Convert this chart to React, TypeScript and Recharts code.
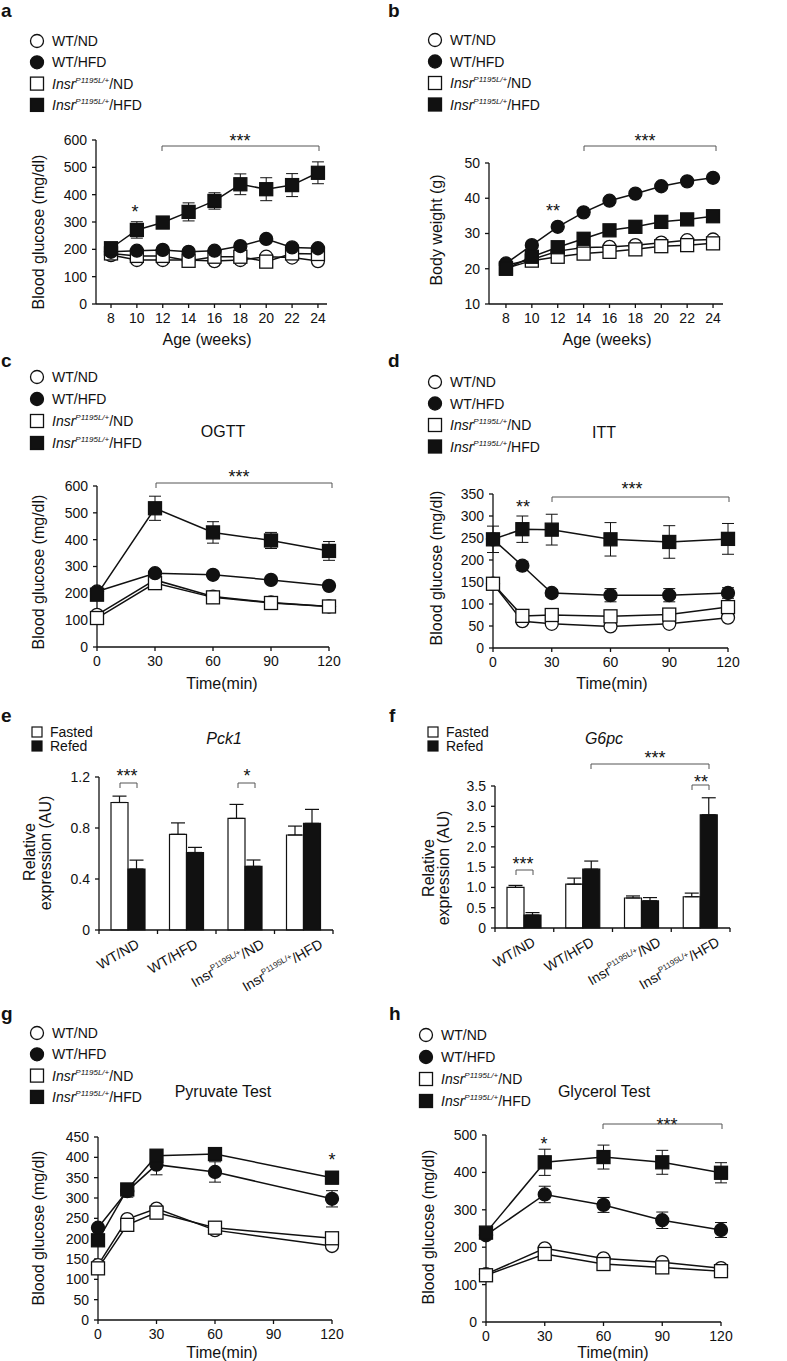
import React from 'react';
import { LineChart, Line, BarChart, Bar, XAxis, YAxis, ErrorBar } from 'recharts';

const FONT = '"Liberation Sans", Arial, Helvetica, sans-serif';
const INK = '#111';

// a: blood glucose vs age
const ageWeeks = [8, 10, 12, 14, 16, 18, 20, 22, 24];
const ageTicks = [8, 10, 12, 14, 16, 18, 20, 22, 24];
const agGluWtNd = [179, 161, 161, 161, 157, 161, 173, 170, 157];
const agGluWtHfd = [191, 195, 198, 191, 195, 212, 238, 207, 204];
const agGluInsNd = [185, 176, 176, 158, 173, 173, 155, 185, 183];
const agGluInsHfd = [204, 271, 298, 337, 377, 438, 420, 435, 480];
const agGluWtHfdErr = [8, 8, 8, 8, 8, 10, 10, 10, 8];
const agGluInsHfdErr = [10, 30, 15, 33, 30, 38, 42, 42, 40];

// b: body weight vs age
const bwWtNd = [21, 22.6, 25, 26, 26.2, 26.7, 27.4, 28.1, 28.3];
const bwWtHfd = [21.5, 26.7, 31.9, 36, 39.3, 41.3, 43.4, 44.8, 45.8];
const bwInsNd = [20.1, 22.3, 23.4, 24.3, 24.8, 25.5, 26.4, 26.7, 27.2];
const bwInsHfd = [20, 23.4, 26.1, 28.5, 30.9, 31.9, 33.3, 34, 34.9];

// c: OGTT
const ogttTime = [0, 30, 60, 90, 120];
const ogttWtNd = [120, 250, 188, 166, 151];
const ogttWtHfd = [207, 275, 269, 250, 228];
const ogttInsNd = [108, 238, 185, 164, 151];
const ogttInsHfd = [195, 517, 427, 397, 358];
const ogttWtHfdErr = [8, 10, 10, 10, 10];
const ogttInsHfdErr = [10, 45, 40, 30, 35];

// d: ITT
const ittTime = [0, 15, 30, 60, 90, 120];
const ittWtNd = [146, 61, 55, 49, 55, 69];
const ittWtHfd = [247, 187, 125, 120, 120, 125];
const ittInsNd = [146, 73, 75, 72, 76, 93];
const ittInsHfd = [247, 270, 269, 247, 241, 248];
const ittWtHfdErr = [10, 10, 8, 15, 15, 12];
const ittInsHfdErr = [30, 30, 35, 38, 37, 35];

// e, f: expression
const groups = ['WT/ND', 'WT/HFD', 'Insr/ND', 'Insr/HFD'];
const pck1Fasted = [1.0, 0.75, 0.875, 0.745];
const pck1FastedErr = [0.05, 0.09, 0.11, 0.07];
const pck1Refed = [0.478, 0.608, 0.499, 0.836];
const pck1RefedErr = [0.07, 0.04, 0.05, 0.11];
const g6pcFasted = [1.0, 1.08, 0.74, 0.77];
const g6pcFastedErr = [0.05, 0.15, 0.05, 0.09];
const g6pcRefed = [0.32, 1.45, 0.67, 2.79];
const g6pcRefedErr = [0.06, 0.2, 0.08, 0.42];

// g: pyruvate test
const pyrTime = [0, 15, 30, 60, 120];
const pyrWtNd = [135, 248, 274, 221, 182];
const pyrWtHfd = [227, 317, 382, 364, 298];
const pyrInsNd = [127, 234, 264, 227, 201];
const pyrInsHfd = [196, 321, 404, 408, 350];
const pyrWtHfdErr = [8, 15, 25, 25, 20];
const pyrInsHfdErr = [8, 10, 12, 15, 15];

// h: glycerol test
const glyTime = [0, 30, 60, 90, 120];
const glyWtNd = [128, 197, 170, 160, 144];
const glyWtHfd = [232, 341, 313, 272, 246];
const glyInsNd = [125, 182, 155, 146, 136];
const glyInsHfd = [239, 427, 441, 427, 399];
const glyWtHfdErr = [8, 22, 20, 22, 20];
const glyInsHfdErr = [10, 35, 32, 32, 27];

const minTicks = [0, 30, 60, 90, 120];

type Box = { x0: number; x1: number; y0: number; y1: number };

const boxA: Box = { x0: 96, x1: 327, y0: 140, y1: 304 };
const boxB: Box = { x0: 489, x1: 723, y0: 163, y1: 304 };
const boxC: Box = { x0: 97, x1: 329, y0: 486, y1: 647 };
const boxD: Box = { x0: 493, x1: 728, y0: 494, y1: 648 };
const boxE: Box = { x0: 99, x1: 333, y0: 777, y1: 930 };
const boxF: Box = { x0: 495, x1: 730, y0: 786, y1: 928 };
const boxG: Box = { x0: 98, x1: 332, y0: 1137, y1: 1320 };
const boxH: Box = { x0: 486, x1: 721, y0: 1135, y1: 1322 };

// chart placed so that its plot area lands exactly on the box
const frame = (b: Box, yw: number, xh: number) => ({
  left: b.x0 - yw,
  top: b.y0 - 20,
  width: b.x1 - b.x0 + yw + 20,
  height: b.y1 - b.y0 + 20 + xh,
});
const MARGIN = { top: 20, right: 20, left: 0, bottom: 0 };

const Marker = (props: any) => {
  const { cx, cy, kind, filled } = props;
  if (cx == null || cy == null) return null;
  const fill = filled ? INK : '#fff';
  if (kind === 'square') {
    return <rect x={cx - 6.5} y={cy - 6.5} width={13} height={13} fill={fill} stroke={INK} strokeWidth={1.3} />;
  }
  return <circle cx={cx} cy={cy} r={6.5} fill={fill} stroke={INK} strokeWidth={1.3} />;
};

type Series = { key: string; values: number[]; err?: number[]; kind: string; filled: boolean };

const fourSeries = (wtNd: number[], insNd: number[], wtHfd: number[], insHfd: number[], wtHfdErr?: number[], insHfdErr?: number[]): Series[] => [
  { key: 'wtNd', values: wtNd, kind: 'circle', filled: false },
  { key: 'insNd', values: insNd, kind: 'square', filled: false },
  { key: 'wtHfd', values: wtHfd, err: wtHfdErr, kind: 'circle', filled: true },
  { key: 'insHfd', values: insHfd, err: insHfdErr, kind: 'square', filled: true },
];

const axisLine = { stroke: INK, strokeWidth: 1.3 };
const tickStyle = { fill: INK, fontSize: 14 };

function LinePanel({ box, xs, series, xDomain, xTicks, yDomain, yTicks }: any) {
  const rows = xs.map((x: number, i: number) => {
    const r: any = { x };
    series.forEach((s: Series) => {
      r[s.key] = s.values[i];
      if (s.err) r[s.key + 'Err'] = s.err[i];
    });
    return r;
  });
  const f = frame(box, 50, 40);
  return (
    <div style={{ position: 'absolute', left: f.left, top: f.top }}>
      <LineChart width={f.width} height={f.height} data={rows} margin={MARGIN}>
        <XAxis dataKey="x" type="number" domain={xDomain} ticks={xTicks} interval={0} height={40}
          axisLine={axisLine} tickLine={axisLine} tickSize={4} tickMargin={5} tick={tickStyle} />
        <YAxis type="number" domain={yDomain} ticks={yTicks} interval={0} width={50}
          axisLine={axisLine} tickLine={axisLine} tickSize={4} tickMargin={5} tick={tickStyle} />
        {series.map((s: Series) => (
          <Line key={s.key} dataKey={s.key} type="linear" stroke={INK} strokeWidth={1.5}
            isAnimationActive={false} activeDot={false}
            dot={<Marker kind={s.kind} filled={s.filled} />}>
            {s.err && (
              <ErrorBar dataKey={s.key + 'Err'} width={6} stroke={INK} strokeWidth={1} direction="y" isAnimationActive={false} />
            )}
          </Line>
        ))}
      </LineChart>
    </div>
  );
}

const GroupTick = (props: any) => {
  const { x, y, payload } = props;
  const v: string = payload.value;
  const isIns = v.startsWith('Insr');
  const dx = isIns ? 20 : 12;
  return (
    <g transform={`translate(${x + dx},${y + 15}) rotate(-30)`}>
      <text textAnchor="end" fill={INK} fontSize={14}>
        {isIns ? (
          <>
            <tspan>Insr</tspan>
            <tspan fontSize={8} dy={-6}>P1195L/+</tspan>
            <tspan dy={6}>{v.slice(4)}</tspan>
          </>
        ) : v}
      </text>
    </g>
  );
};

function BarPanel({ box, fasted, fastedErr, refed, refedErr, yDomain, yTicks, fmt }: any) {
  const rows = groups.map((g, i) => ({
    group: g,
    fasted: fasted[i],
    fastedErr: [0, fastedErr[i]],
    refed: refed[i],
    refedErr: [0, refedErr[i]],
  }));
  const f = frame(box, 90, 90);
  return (
    <div style={{ position: 'absolute', left: f.left, top: f.top }}>
      <BarChart width={f.width} height={f.height} data={rows} margin={MARGIN} barGap={0}>
        <XAxis dataKey="group" interval={0} height={90} axisLine={axisLine} tickLine={false}
          tickSize={0} tick={<GroupTick />} />
        <YAxis type="number" domain={yDomain} ticks={yTicks} interval={0} width={90}
          axisLine={axisLine} tickLine={axisLine} tickSize={4} tickMargin={5} tick={tickStyle}
          tickFormatter={fmt} />
        <Bar dataKey="fasted" fill="#fff" stroke={INK} strokeWidth={1.2} barSize={17} isAnimationActive={false}>
          <ErrorBar dataKey="fastedErr" width={7} stroke={INK} strokeWidth={1.2} direction="y" isAnimationActive={false} />
        </Bar>
        <Bar dataKey="refed" fill={INK} stroke={INK} strokeWidth={1.2} barSize={17} isAnimationActive={false}>
          <ErrorBar dataKey="refedErr" width={7} stroke={INK} strokeWidth={1.2} direction="y" isAnimationActive={false} />
        </Bar>
      </BarChart>
    </div>
  );
}

const legendItems = [
  { kind: 'circle', filled: false, label: 'WT/ND' },
  { kind: 'circle', filled: true, label: 'WT/HFD' },
  { kind: 'square', filled: false, label: 'Insr/ND' },
  { kind: 'square', filled: true, label: 'Insr/HFD' },
];

function GroupLegend({ x, y, step }: { x: number; y: number; step: number }) {
  return (
    <g>
      {legendItems.map((it, i) => {
        const cy = y + i * step;
        const isIns = it.label.startsWith('Insr');
        return (
          <g key={it.label}>
            <Marker cx={x} cy={cy} kind={it.kind} filled={it.filled} />
            <text x={x + 15} y={cy + 5} fontSize={14} fill={INK}>
              {isIns ? (
                <>
                  <tspan fontStyle="italic">Insr</tspan>
                  <tspan fontStyle="italic" fontSize={8} dy={-6}>P1195L/+</tspan>
                  <tspan dy={6}>{it.label.slice(4)}</tspan>
                </>
              ) : it.label}
            </text>
          </g>
        );
      })}
    </g>
  );
}

function DietLegend({ x, y }: { x: number; y: number }) {
  return (
    <g>
      <rect x={x - 5} y={y - 5} width={10} height={10} fill="#fff" stroke={INK} strokeWidth={1.2} />
      <text x={x + 13} y={y + 5} fontSize={14} fill={INK}>Fasted</text>
      <rect x={x - 5} y={y + 9} width={10} height={10} fill={INK} stroke={INK} strokeWidth={1.2} />
      <text x={x + 13} y={y + 19} fontSize={14} fill={INK}>Refed</text>
    </g>
  );
}

const Stars = ({ x, y, s }: { x: number; y: number; s: string }) => (
  <text x={x} y={y + 11} textAnchor="middle" fontSize={18} fill={INK}>{s}</text>
);

const Bracket = ({ x1, x2, y }: { x1: number; x2: number; y: number }) => (
  <path d={`M${x1},${y + 5}V${y}H${x2}V${y + 5}`} fill="none" stroke="#555" strokeWidth={1} />
);

const YTitle = ({ x, y, text }: { x: number; y: number; text: string }) => (
  <text transform={`translate(${x},${y}) rotate(-90)`} y={5.5} textAnchor="middle" fontSize={16} fill={INK}>{text}</text>
);

const Title = ({ x, y, text, italic }: { x: number; y: number; text: string; italic?: boolean }) => (
  <text x={x} y={y + 6} textAnchor="middle" fontSize={16} fill={INK} fontStyle={italic ? 'italic' : 'normal'}>{text}</text>
);

const Letter = ({ x, y, t }: { x: number; y: number; t: string }) => (
  <text x={x} y={y} fontSize={19} fontWeight="bold" fill={INK}>{t}</text>
);

const bandTicks = (b: Box) =>
  [0, 1, 2, 3, 4].map((i) => {
    const x = b.x0 + ((b.x1 - b.x0) * i) / 4;
    return <line key={`${b.x0}-${i}`} x1={x} x2={x} y1={b.y1} y2={b.y1 + 4} stroke={INK} strokeWidth={1.3} />;
  });

const fmt1 = (v: number) => (v === 0 ? '0' : v.toFixed(1));

export default function App() {
  return (
    <div style={{ position: 'absolute', left: 0, top: 0, width: 787, height: 1361, background: '#fff', fontFamily: FONT, overflow: 'hidden' }}>
      <LinePanel box={boxA} xs={ageWeeks}
        series={fourSeries(agGluWtNd, agGluInsNd, agGluWtHfd, agGluInsHfd, agGluWtHfdErr, agGluInsHfdErr)}
        xDomain={[6.84, 24.7]} xTicks={ageTicks} yDomain={[0, 600]} yTicks={[0, 100, 200, 300, 400, 500, 600]} />
      <LinePanel box={boxB} xs={ageWeeks}
        series={fourSeries(bwWtNd, bwInsNd, bwWtHfd, bwInsHfd)}
        xDomain={[6.69, 24.77]} xTicks={ageTicks} yDomain={[10, 50]} yTicks={[10, 20, 30, 40, 50]} />
      <LinePanel box={boxC} xs={ogttTime}
        series={fourSeries(ogttWtNd, ogttInsNd, ogttWtHfd, ogttInsHfd, ogttWtHfdErr, ogttInsHfdErr)}
        xDomain={[0, 120]} xTicks={minTicks} yDomain={[0, 600]} yTicks={[0, 100, 200, 300, 400, 500, 600]} />
      <LinePanel box={boxD} xs={ittTime}
        series={fourSeries(ittWtNd, ittInsNd, ittWtHfd, ittInsHfd, ittWtHfdErr, ittInsHfdErr)}
        xDomain={[0, 120]} xTicks={minTicks} yDomain={[0, 350]} yTicks={[0, 50, 100, 150, 200, 250, 300, 350]} />
      <BarPanel box={boxE} fasted={pck1Fasted} fastedErr={pck1FastedErr} refed={pck1Refed} refedErr={pck1RefedErr}
        yDomain={[0, 1.2]} yTicks={[0, 0.4, 0.8, 1.2]} fmt={fmt1} />
      <BarPanel box={boxF} fasted={g6pcFasted} fastedErr={g6pcFastedErr} refed={g6pcRefed} refedErr={g6pcRefedErr}
        yDomain={[0, 3.5]} yTicks={[0, 0.5, 1, 1.5, 2, 2.5, 3, 3.5]} fmt={fmt1} />
      <LinePanel box={boxG} xs={pyrTime}
        series={fourSeries(pyrWtNd, pyrInsNd, pyrWtHfd, pyrInsHfd, pyrWtHfdErr, pyrInsHfdErr)}
        xDomain={[0, 120]} xTicks={minTicks} yDomain={[0, 450]} yTicks={[0, 50, 100, 150, 200, 250, 300, 350, 400, 450]} />
      <LinePanel box={boxH} xs={glyTime}
        series={fourSeries(glyWtNd, glyInsNd, glyWtHfd, glyInsHfd, glyWtHfdErr, glyInsHfdErr)}
        xDomain={[0, 120]} xTicks={minTicks} yDomain={[0, 500]} yTicks={[0, 100, 200, 300, 400, 500]} />

      <svg width={787} height={1361} style={{ position: 'absolute', left: 0, top: 0, pointerEvents: 'none' }}>
        <Letter x={1} y={17} t="a" />
        <Letter x={388} y={17} t="b" />
        <Letter x={1} y={367} t="c" />
        <Letter x={388} y={367} t="d" />
        <Letter x={1} y={722} t="e" />
        <Letter x={389} y={722} t="f" />
        <Letter x={1} y={1020} t="g" />
        <Letter x={389} y={1020} t="h" />

        <GroupLegend x={37} y={41} step={21.3} />
        <GroupLegend x={435} y={40} step={21.5} />
        <GroupLegend x={37} y={377} step={22} />
        <GroupLegend x={435} y={382} step={21.5} />
        <GroupLegend x={37} y={1033} step={21.3} />
        <GroupLegend x={426} y={1035} step={22} />
        <DietLegend x={37} y={732} />
        <DietLegend x={433} y={732} />

        <Title x={223} y={431} text="OGTT" />
        <Title x={604} y={432} text="ITT" />
        <Title x={224} y={738} text="Pck1" italic />
        <Title x={604} y={738} text="G6pc" italic />
        <Title x={223} y={1091} text="Pyruvate Test" />
        <Title x={604} y={1091} text="Glycerol Test" />

        <YTitle x={38} y={232} text="Blood glucose (mg/dl)" />
        <YTitle x={436} y={230} text="Body weight (g)" />
        <YTitle x={38} y={572} text="Blood glucose (mg/dl)" />
        <YTitle x={436} y={568} text="Blood glucose (mg/dl)" />
        <YTitle x={29} y={852} text="Relative" />
        <YTitle x={45} y={853} text="expression (AU)" />
        <YTitle x={428} y={868} text="Relative" />
        <YTitle x={443} y={868} text="expression (AU)" />
        <YTitle x={38} y={1228} text="Blood glucose (mg/dl)" />
        <YTitle x={428} y={1227} text="Blood glucose (mg/dl)" />

        <Title x={207} y={339} text="Age (weeks)" />
        <Title x={607} y={339} text="Age (weeks)" />
        <Title x={222} y={683} text="Time(min)" />
        <Title x={612} y={683} text="Time(min)" />
        <Title x={222} y={1352} text="Time(min)" />
        <Title x={613} y={1352} text="Time(min)" />

        {bandTicks(boxE)}
        {bandTicks(boxF)}

        <Stars x={135} y={207} s="*" />
        <Stars x={240} y={136} s="***" />
        <Bracket x1={162} x2={319} y={146} />
        <Stars x={553} y={206} s="**" />
        <Stars x={645} y={136} s="***" />
        <Bracket x1={584} x2={716} y={146} />
        <Stars x={239} y={472} s="***" />
        <Bracket x1={156} x2={332} y={483} />
        <Stars x={523} y={502} s="**" />
        <Stars x={632} y={484} s="***" />
        <Bracket x1={552} x2={729} y={497} />
        <Stars x={127} y={771} s="***" />
        <Bracket x1={120} x2={137} y={783} />
        <Stars x={247} y={771} s="*" />
        <Bracket x1={238} x2={255} y={783} />
        <Stars x={655} y={753} s="***" />
        <Bracket x1={591} x2={709} y={764} />
        <Stars x={701} y={777} s="**" />
        <Bracket x1={692} x2={709} y={785} />
        <Stars x={523} y={859} s="***" />
        <Bracket x1={516} x2={533} y={870} />
        <Stars x={332} y={1155} s="*" />
        <Stars x={544} y={1139} s="*" />
        <Stars x={667} y={1120} s="***" />
        <Bracket x1={603} x2={722} y={1124} />
      </svg>
    </div>
  );
}
